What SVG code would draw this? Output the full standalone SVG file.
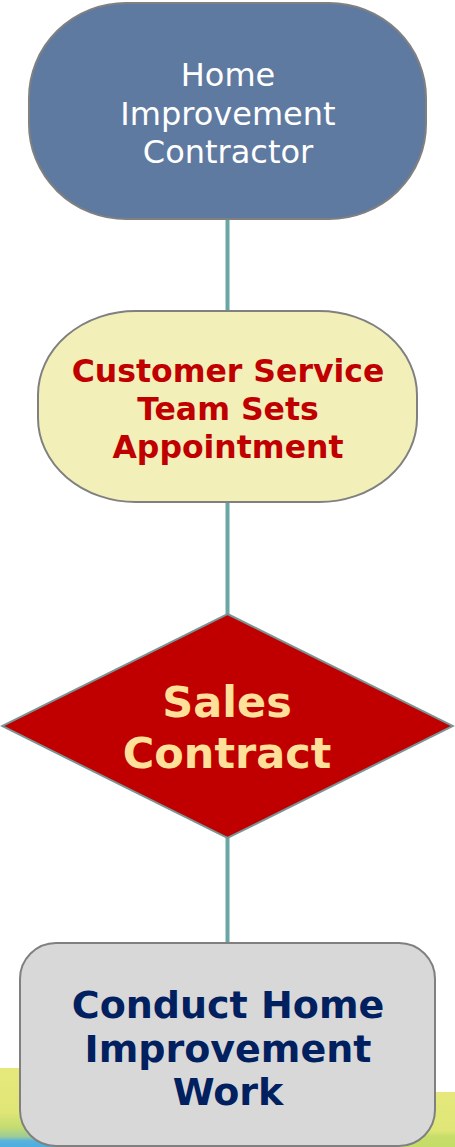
<svg xmlns="http://www.w3.org/2000/svg" width="455" height="1147" viewBox="0 0 455 1147">
<defs>
<linearGradient id="bandL" x1="0" y1="0" x2="0" y2="1">
<stop offset="0" stop-color="#e6e87c"/>
<stop offset="0.55" stop-color="#e0e676"/>
<stop offset="0.75" stop-color="#c4dc72"/>
<stop offset="0.87" stop-color="#9ccc98"/>
<stop offset="0.92" stop-color="#5ab2dc"/>
<stop offset="1" stop-color="#4aaee0"/>
</linearGradient>
<linearGradient id="bandR" x1="0" y1="0" x2="0" y2="1">
<stop offset="0" stop-color="#e6e87c"/>
<stop offset="0.7" stop-color="#dfe676"/>
<stop offset="0.8" stop-color="#c8de6a"/>
<stop offset="1" stop-color="#c4dc68"/>
</linearGradient>
<style>
.conn{stroke:#6aa6a6;stroke-width:4;fill:none}
.shape{stroke:#808080;stroke-width:2}
.t{font-family:"DejaVu Sans",Verdana,sans-serif;text-anchor:middle}
</style>
</defs>
<rect width="455" height="1147" fill="#ffffff"/>
<g id="background">
<rect x="0" y="1068" width="60" height="79" fill="url(#bandL)"/>
<rect x="400" y="1092" width="55" height="55" fill="url(#bandR)"/>
</g>
<g id="connectors">
<line class="conn" x1="227.5" y1="219" x2="227.5" y2="312"/>
<line class="conn" x1="227.5" y1="502" x2="227.5" y2="614"/>
<line class="conn" x1="227.5" y1="838" x2="227.5" y2="943"/>
</g>
<g id="node-contractor">
<rect class="shape" x="29" y="3" width="397" height="216" rx="97" ry="95" fill="#5f7aa0"/>
<text class="t" font-size="32" fill="#ffffff"><tspan x="228" y="86">Home</tspan><tspan x="228" y="125">Improvement</tspan><tspan x="228" y="163">Contractor</tspan></text>
</g>
<g id="node-customer-service">
<rect class="shape" x="38" y="311" width="379" height="191" rx="98" ry="84" fill="#f2f0b8"/>
<text class="t" font-size="31.5" font-weight="bold" fill="#c00000"><tspan x="228" y="382">Customer Service</tspan><tspan x="228" y="420">Team Sets</tspan><tspan x="228" y="458">Appointment</tspan></text>
</g>
<g id="node-sales-contract">
<polygon points="227.5,614 453,726 227.5,838 2,726" fill="#c00000" stroke="#7a9494" stroke-width="2"/>
<text class="t" font-size="43" font-weight="bold" fill="#ffe09a"><tspan x="227" y="717">Sales</tspan><tspan x="227" y="768">Contract</tspan></text>
</g>
<g id="node-conduct-work">
<rect class="shape" x="20" y="943" width="415" height="203" rx="36" ry="36" fill="#d8d8d8"/>
<text class="t" font-size="38" font-weight="bold" fill="#002060"><tspan x="228" y="1018">Conduct Home</tspan><tspan x="228" y="1062">Improvement</tspan><tspan x="228" y="1105">Work</tspan></text>
</g>
</svg>
